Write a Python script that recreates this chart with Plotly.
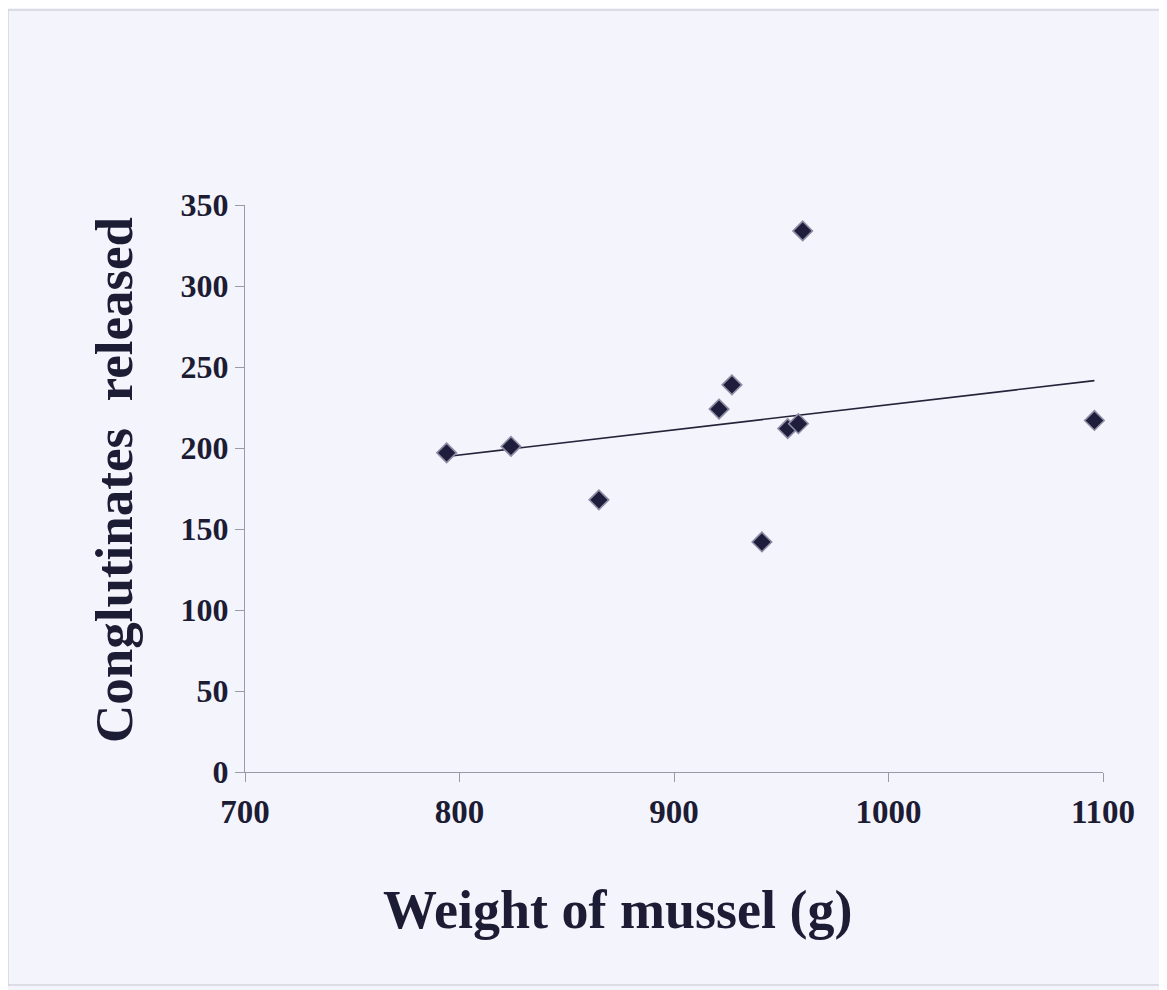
import numpy as np
import plotly.graph_objects as go

# Data
weight_g = [794, 824, 865, 921, 927, 941, 953, 958, 960, 1096]
conglutinates = [197, 201, 168, 224, 239, 142, 212, 215, 334, 217]

x_ticks = [700, 800, 900, 1000, 1100]
y_ticks = [0, 50, 100, 150, 200, 250, 300, 350]

x_title = "Weight of mussel (g)"
y_title = "Conglutinates\u00a0 released"

# Linear trendline (least squares) drawn from min to max x
slope, intercept = np.polyfit(weight_g, conglutinates, 1)
trend_x = [min(weight_g), max(weight_g)]
trend_y = [slope * v + intercept for v in trend_x]

BG = "#F4F4FC"
INK = "#1c1c34"
AXIS = "#9a9aa6"
FONT = "Liberation Serif, Times New Roman, serif"

# The page body adds an 8px offset; margins compensate so the plot area
# lands at screen x 245..1103, y 205..772.
OFF = 8
L, R, T, B = 245 - OFF, 64 + OFF, 205 - OFF, 218 + OFF
PW, PH = 1167 - L - R, 990 - T - B


def px(sx):
    return (sx - OFF - L) / PW


def py(sy):
    return (990 - B - (sy - OFF)) / PH


fig = go.Figure()
fig.add_trace(go.Scatter(
    x=trend_x, y=trend_y, mode="lines",
    line=dict(color="#23233a", width=1.6),
    hoverinfo="skip", showlegend=False,
))
fig.add_trace(go.Scatter(
    x=weight_g, y=conglutinates, mode="markers",
    marker=dict(symbol="diamond", size=15, color="#1e1e3c",
                line=dict(color="#8c8ca4", width=1.6)),
    showlegend=False, cliponaxis=False,
))

fig.update_layout(
    width=1167, height=990,
    paper_bgcolor=BG, plot_bgcolor=BG,
    margin=dict(l=L, r=R, t=T, b=B),
    font=dict(family=FONT, color=INK),
    showlegend=False,
)
fig.update_xaxes(
    range=[700, 1100], tickvals=x_ticks, ticktext=[str(v) for v in x_ticks],
    showgrid=False, zeroline=False,
    showline=True, linecolor=AXIS, linewidth=1.2,
    ticks="outside", ticklen=9, tickcolor=AXIS, tickwidth=1.2,
    tickfont=dict(family=FONT, size=33, color=INK, weight="bold"),
    ticklabelstandoff=1,
)
fig.update_yaxes(
    range=[0, 350], tickvals=y_ticks, ticktext=[str(v) for v in y_ticks],
    showgrid=False, zeroline=False,
    showline=True, linecolor=AXIS, linewidth=1.2,
    ticks="outside", ticklen=9, tickcolor=AXIS, tickwidth=1.2,
    tickfont=dict(family=FONT, size=32, color=INK, weight="bold"),
    ticklabelstandoff=0,
)

# Axis titles placed as annotations to match the reference positions
fig.add_annotation(
    text=f"<b>{x_title}</b>", xref="paper", yref="paper",
    x=px(617), y=py(910),
    xanchor="center", yanchor="middle", showarrow=False,
    font=dict(family=FONT, size=54, color=INK),
)
fig.add_annotation(
    text=f"<b>{y_title}</b>", xref="paper", yref="paper",
    x=px(114), y=py(480),
    xanchor="center", yanchor="middle", showarrow=False, textangle=-90,
    font=dict(family=FONT, size=53, color=INK),
)

# Thin frame around the page
fig.add_shape(
    type="rect", xref="paper", yref="paper",
    x0=px(8), x1=px(1160), y0=py(985), y1=py(10),
    line=dict(color="#c4c4cc", width=1), fillcolor="rgba(0,0,0,0)", layer="below",
)

fig.write_html("out.html")
